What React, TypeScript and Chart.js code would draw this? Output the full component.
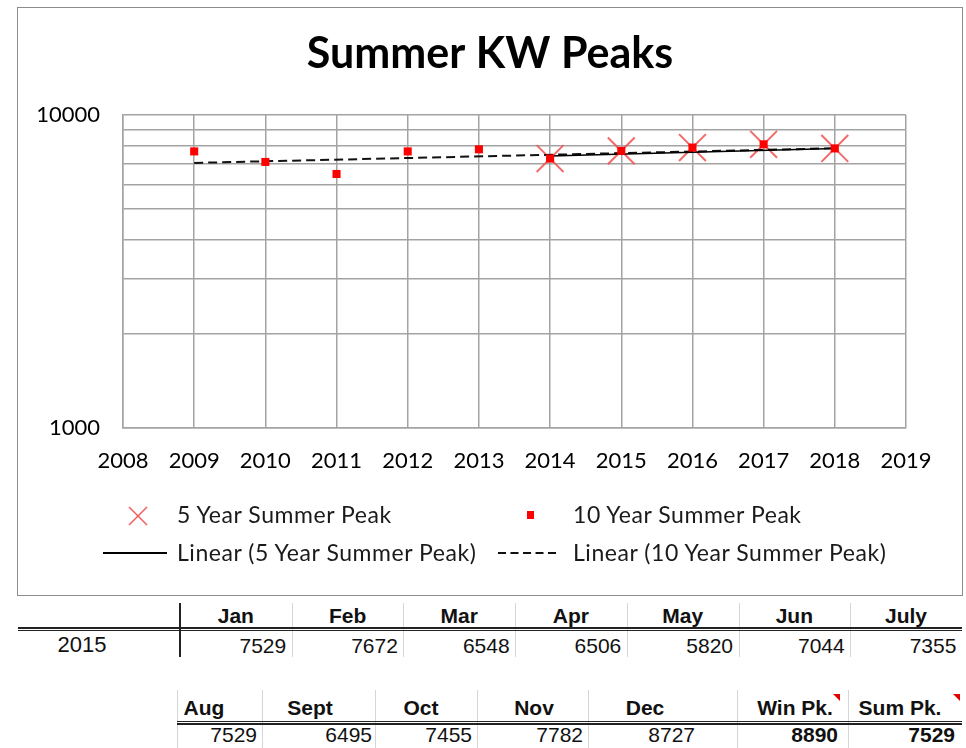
import React, { useEffect, useRef } from 'react';
import { Chart, registerables } from 'chart.js';

Chart.register(...registerables);

// ---------- data ----------
const titleText = 'Summer KW Peaks';
const seriesNames = [
  '5 Year Summer Peak',
  '10 Year Summer Peak',
  'Linear (5 Year Summer Peak)',
  'Linear (10 Year Summer Peak)',
];
const years10 = [2009, 2010, 2011, 2012, 2013, 2014, 2015, 2016, 2017, 2018];
const peak10 = [7650, 7080, 6480, 7650, 7770, 7260, 7680, 7870, 8060, 7820];
const years5 = [2014, 2015, 2016, 2017, 2018];
const peak5 = [7260, 7680, 7870, 8060, 7820];
const trend5Years = [2014, 2018];
const trend5 = [7400, 7820];
const trend10Years = [2009, 2018];
const trend10 = [7030, 7830];

const xTickLabels = ['2008', '2009', '2010', '2011', '2012', '2013', '2014', '2015', '2016', '2017', '2018', '2019'];
const xMin = 2008;
const xMax = 2019;
const yGridValues = [1000, 2000, 3000, 4000, 5000, 6000, 7000, 8000, 9000, 10000];
const yLabeledValues = [1000, 10000];
const yTickLabels = ['1000', '10000'];

const tableYear = '2015';
const months1 = ['Jan', 'Feb', 'Mar', 'Apr', 'May', 'Jun', 'July'];
const values1 = [7529, 7672, 6548, 6506, 5820, 7044, 7355];
const months2 = ['Aug', 'Sept', 'Oct', 'Nov', 'Dec', 'Win Pk.', 'Sum Pk.'];
const values2 = [7529, 6495, 7455, 7782, 8727, 8890, 7529];
const bold2 = [false, false, false, false, false, true, true];

// ---------- layout (page pixels) ----------
const BOX = { left: 17, top: 7, width: 946, height: 589 };
const CANVAS = { left: 18, top: 8, width: 944, height: 587 };
const AREA = { left: 123, right: 906, top: 115, bottom: 428 };
const t1Cols = { start: 180, width: 111.7 };
const t2HeaderCenters = [204, 310, 421, 534, 645, 795, 900];
const t2ValueRights = [257, 372, 472, 583, 695, 838, 955];
const t2Separators = [177, 262, 375, 477, 588, 737, 848];

const FONT = 'Lato, "Open Sans", sans-serif';
const TFONT = '"Liberation Sans", Arial, sans-serif';

const centerTitlePlugin = {
  id: 'centerTitle',
  afterDraw(chart: any) {
    const ctx = chart.ctx;
    ctx.save();
    ctx.font = `bold 43px ${FONT}`;
    ctx.fillStyle = '#000000';
    ctx.textAlign = 'center';
    ctx.textBaseline = 'middle';
    ctx.fillText(titleText, chart.width / 2, 46);
    ctx.restore();
  },
};

function ChartCanvas() {
  const ref = useRef<HTMLCanvasElement | null>(null);
  useEffect(() => {
    if (!ref.current) return;
    const gridColor = '#a3a3a3';
    const chart = new Chart(ref.current, {
      type: 'scatter',
      data: {
        datasets: [
          {
            label: seriesNames[0],
            data: years5.map((x, i) => ({ x, y: peak5[i] })),
            pointStyle: 'crossRot',
            pointRadius: 19,
            pointBorderWidth: 2,
            borderColor: 'rgba(240,80,80,0.85)',
            backgroundColor: 'rgba(240,80,80,0.85)',
            showLine: false,
            order: 4,
          },
          {
            label: seriesNames[1],
            data: years10.map((x, i) => ({ x, y: peak10[i] })),
            pointStyle: 'rect',
            pointRadius: 5.7,
            pointBorderWidth: 0,
            borderColor: '#ff0000',
            backgroundColor: '#ff0000',
            showLine: false,
            order: 1,
          },
          {
            label: seriesNames[2],
            data: trend5Years.map((x, i) => ({ x, y: trend5[i] })),
            showLine: true,
            pointRadius: 0,
            borderColor: '#000000',
            borderWidth: 1.6,
            order: 2,
          },
          {
            label: seriesNames[3],
            data: trend10Years.map((x, i) => ({ x, y: trend10[i] })),
            showLine: true,
            pointRadius: 0,
            borderColor: '#111111',
            borderWidth: 2,
            borderDash: [9, 5],
            order: 3,
          },
        ],
      },
      options: {
        animation: false,
        responsive: false,
        maintainAspectRatio: false,
        events: [],
        layout: {
          padding: {
            left: 0,
            right: CANVAS.width - (AREA.right - CANVAS.left),
            top: AREA.top - CANVAS.top,
            bottom: CANVAS.height - (AREA.bottom - CANVAS.top) - 60,
          },
        },
        plugins: {
          legend: { display: false },
          tooltip: { enabled: false },
          title: { display: false },
        },
        scales: {
          x: {
            type: 'linear',
            min: xMin,
            max: xMax,
            ticks: {
              stepSize: 1,
              padding: 20,
              color: '#000000',
              font: { family: FONT, size: 22 },
              callback: (v: any) => {
                const idx = Math.round(Number(v) - xMin);
                return xTickLabels[idx] ?? '';
              },
            },
            grid: { color: gridColor, lineWidth: 1.5, drawTicks: false },
            border: { display: true, color: gridColor, width: 1.5 },
            afterFit: (scale: any) => {
              scale.height = 60;
            },
          },
          y: {
            type: 'logarithmic',
            min: 1000,
            max: 10000,
            afterBuildTicks: (scale: any) => {
              scale.ticks = yGridValues.map((v) => ({ value: v }));
            },
            ticks: {
              padding: 23,
              color: '#000000',
              font: { family: FONT, size: 22 },
              autoSkip: false,
              callback: (v: any) => {
                const idx = yLabeledValues.indexOf(Number(v));
                return idx >= 0 ? yTickLabels[idx] : '';
              },
            },
            grid: { color: gridColor, lineWidth: 1.5, drawTicks: false },
            border: { display: true, color: gridColor, width: 1.5 },
            afterFit: (scale: any) => {
              scale.width = AREA.left - CANVAS.left;
            },
          },
        },
      },
      plugins: [centerTitlePlugin],
    } as any);
    return () => chart.destroy();
  }, []);
  return (
    <canvas
      ref={ref}
      width={CANVAS.width}
      height={CANVAS.height}
      style={{ position: 'absolute', left: CANVAS.left, top: CANVAS.top, width: CANVAS.width, height: CANVAS.height }}
    />
  );
}

function LegendText({ text, left, capCenter }: { text: string; left: number; capCenter: number }) {
  return (
    <div
      style={{
        position: 'absolute',
        left,
        top: capCenter - 12.1,
        font: `23px ${FONT}`,
        lineHeight: '23px',
        color: '#1a1a1a',
        whiteSpace: 'nowrap',
        letterSpacing: '0.55px',
      }}
    >
      {text}
    </div>
  );
}

function TText({
  text,
  x,
  baseline,
  align,
  bold,
  size = 21,
}: {
  text: string;
  x: number;
  baseline: number;
  align: 'left' | 'center' | 'right';
  bold?: boolean;
  size?: number;
}) {
  const w = 160;
  const left = align === 'left' ? x : align === 'center' ? x - w / 2 : x - w;
  return (
    <div
      style={{
        position: 'absolute',
        left,
        width: w,
        top: baseline - 0.848 * size,
        font: `${bold ? 'bold ' : ''}${size}px ${TFONT}`,
        lineHeight: `${size}px`,
        textAlign: align,
        color: '#111',
        whiteSpace: 'nowrap',
      }}
    >
      {text}
    </div>
  );
}

export default function App() {
  const row1 = 515;
  const row2 = 553.5;
  const t1HeaderBase = 623;
  const t1ValueBase = 653;
  const t2HeaderBase = 715;
  const t2ValueBase = 742;
  return (
    <div
      style={{
        position: 'absolute',
        left: 0,
        top: 0,
        width: 966,
        height: 748,
        background: '#ffffff',
        overflow: 'hidden',
      }}
    >
      <div
        style={{
          position: 'absolute',
          left: BOX.left,
          top: BOX.top,
          width: BOX.width,
          height: BOX.height,
          boxSizing: 'border-box',
          border: '1.5px solid #8c8c8c',
        }}
      />
      <ChartCanvas />

      {/* legend */}
      <svg style={{ position: 'absolute', left: 128, top: 506 }} width={20} height={20}>
        <line x1={1} y1={1} x2={19} y2={19} stroke="rgba(240,80,80,0.9)" strokeWidth={1.6} />
        <line x1={19} y1={1} x2={1} y2={19} stroke="rgba(240,80,80,0.9)" strokeWidth={1.6} />
      </svg>
      <LegendText text={seriesNames[0]} left={177} capCenter={row1} />
      <div style={{ position: 'absolute', left: 527, top: 511, width: 7, height: 8, background: '#ff0000' }} />
      <LegendText text={seriesNames[1]} left={573} capCenter={row1} />
      <div style={{ position: 'absolute', left: 103, top: 552, width: 64, height: 2, background: '#000' }} />
      <LegendText text={seriesNames[2]} left={177} capCenter={row2} />
      <svg style={{ position: 'absolute', left: 498, top: 550 }} width={62} height={6}>
        <line x1={0} y1={3} x2={62} y2={3} stroke="#111" strokeWidth={2} strokeDasharray="8 4.5" />
      </svg>
      <LegendText text={seriesNames[3]} left={573} capCenter={row2} />

      {/* table 1 */}
      {months1.map((_, i) =>
        i > 0 ? (
          <div
            key={'s1' + i}
            style={{
              position: 'absolute',
              left: t1Cols.start + t1Cols.width * i,
              top: 603,
              width: 1,
              height: 54,
              background: '#d6d6d6',
            }}
          />
        ) : null
      )}
      <div style={{ position: 'absolute', left: 179, top: 603, width: 2, height: 54, background: '#222' }} />
      <div style={{ position: 'absolute', left: 18, top: 627, width: 944, height: 1.5, background: '#222' }} />
      <div style={{ position: 'absolute', left: 18, top: 629.5, width: 944, height: 1.5, background: '#222' }} />
      <TText text={tableYear} x={82} baseline={t1ValueBase} align="center" size={22} />
      {months1.map((m, i) => (
        <TText
          key={'h1' + i}
          text={m}
          x={t1Cols.start + t1Cols.width * (i + 0.5)}
          baseline={t1HeaderBase}
          align="center"
          bold
        />
      ))}
      {values1.map((v, i) => (
        <TText
          key={'v1' + i}
          text={String(v)}
          x={t1Cols.start + t1Cols.width * (i + 1) - 5.5}
          baseline={t1ValueBase}
          align="right"
        />
      ))}

      {/* table 2 */}
      {t2Separators.map((x, i) => (
        <div
          key={'s2' + i}
          style={{ position: 'absolute', left: x, top: 690, width: 1, height: 58, background: '#d6d6d6' }}
        />
      ))}
      <div style={{ position: 'absolute', left: 177, top: 720.5, width: 785, height: 1.5, background: '#222' }} />
      <div style={{ position: 'absolute', left: 177, top: 723, width: 785, height: 1.5, background: '#222' }} />
      {months2.map((m, i) => (
        <TText
          key={'h2' + i}
          text={m}
          x={t2HeaderCenters[i]}
          baseline={t2HeaderBase}
          align="center"
          bold
        />
      ))}
      {values2.map((v, i) => (
        <TText
          key={'v2' + i}
          text={String(v)}
          x={t2ValueRights[i]}
          baseline={t2ValueBase}
          align="right"
          bold={bold2[i]}
        />
      ))}
      <svg style={{ position: 'absolute', left: 833, top: 694 }} width={8} height={8}>
        <polygon points="0,0 7,0 7,7" fill="#e00000" />
      </svg>
      <svg style={{ position: 'absolute', left: 953, top: 694 }} width={8} height={8}>
        <polygon points="0,0 7,0 7,7" fill="#e00000" />
      </svg>
    </div>
  );
}
